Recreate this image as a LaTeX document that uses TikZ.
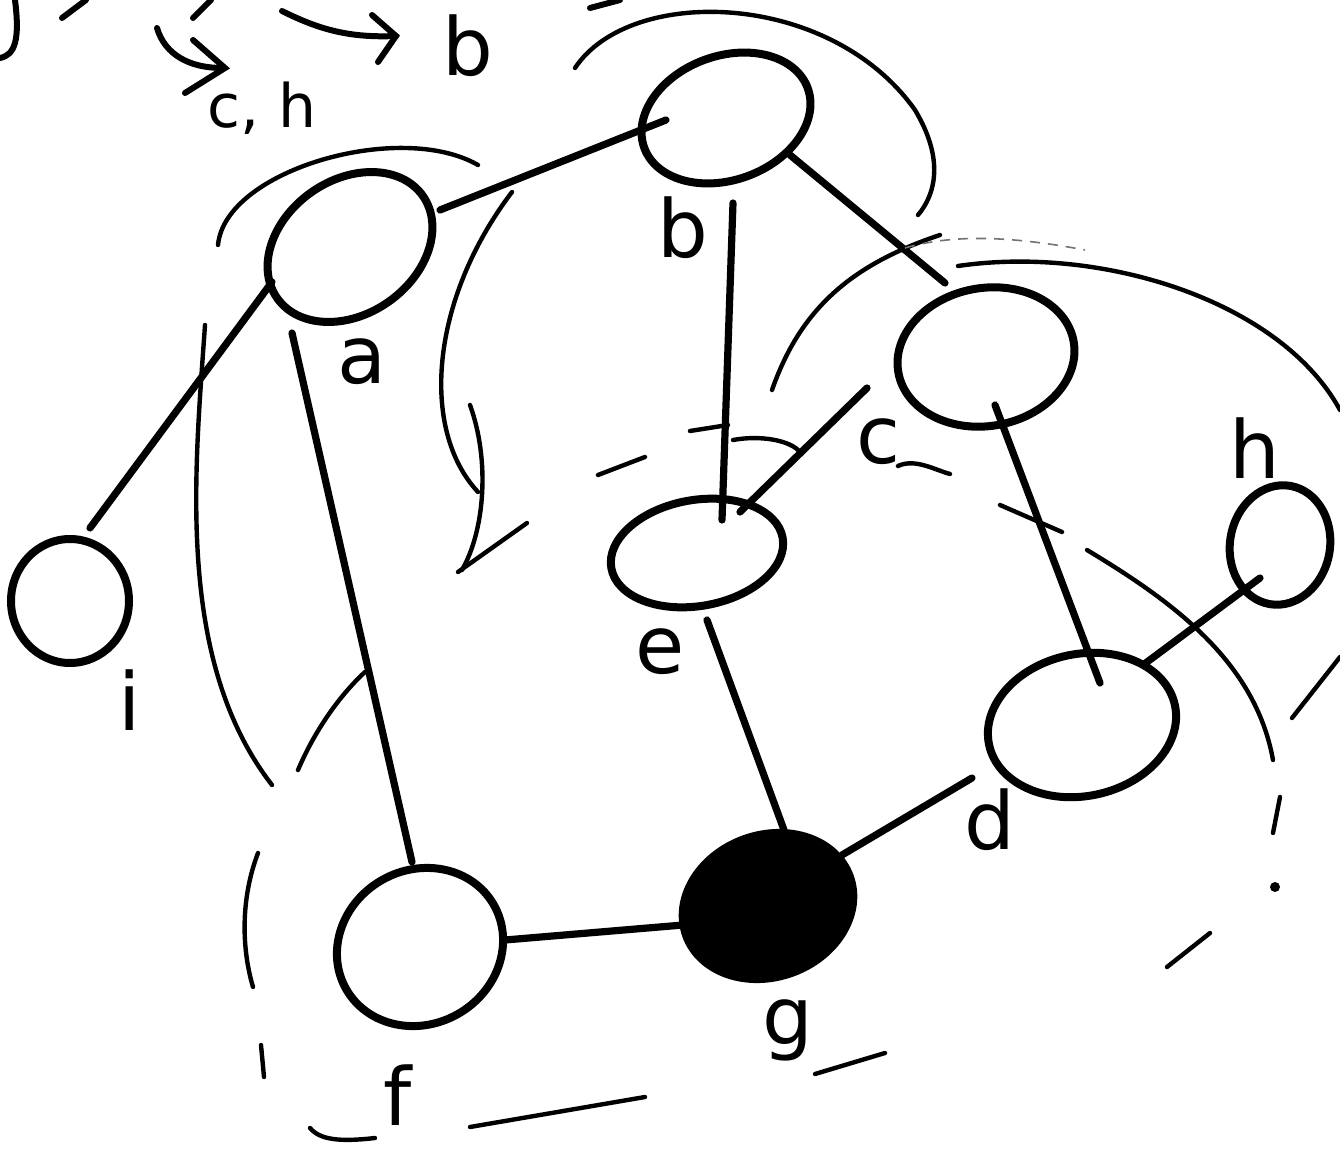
\documentclass[tikz,border=0pt]{standalone}
\usepackage{fontspec}
\setmainfont{DejaVu Sans}
\usetikzlibrary{shapes.geometric,calc}
\begin{document}
\begin{tikzpicture}[x=0.5pt,y=-0.5pt,
  vtx/.style={ellipse,draw,line width=4pt,inner sep=0pt},
  edg/.style={line width=3.6pt,line cap=round},
  skt/.style={line width=2.2pt,line cap=round},
  faint/.style={line width=0.8pt,dash pattern=on 5pt off 4pt,black!55},
  lbl/.style={inner sep=0pt,font=\fontsize{40}{44}\selectfont},
  small/.style={inner sep=0pt,font=\fontsize{30}{34}\selectfont}]
\useasboundingbox[fill=white] (0,0) rectangle (1340,1156);

% vertices
\node[vtx,minimum width=89pt,minimum height=67pt,rotate=35] (a) at (350,247) {};
\node[vtx,minimum width=87pt,minimum height=62pt,rotate=20] (b) at (726,118) {};
\node[vtx,minimum width=89pt,minimum height=69pt,rotate=10] (c) at (986,357) {};
\node[vtx,minimum width=87pt,minimum height=53pt,rotate=10] (e) at (697,553) {};
\node[vtx,minimum width=50pt,minimum height=60pt,rotate=-10] (h) at (1280,545) {};
\node[vtx,minimum width=95pt,minimum height=71pt,rotate=12] (d) at (1082,725) {};
\node[vtx,fill=black,minimum width=87pt,minimum height=71pt,rotate=20] (g) at (768,906) {};
\node[vtx,minimum width=85pt,minimum height=77pt,rotate=30] (f) at (420,947) {};
\node[vtx,minimum width=59pt,minimum height=62pt] (i) at (70,601) {};

% edges
\draw[edg] ($(a)+(90,-37)$) -- ($(b)+(-60,2)$);
\draw[edg] ($(a)+(-78,35)$) -- ($(i)+(20,-73)$);
\draw[edg] ($(a)+(-58,86)$) -- ($(f)+(-8,-85)$);
\draw[edg] ($(b)+(7,85)$) -- ($(e)+(25,-33)$);
\draw[edg] ($(b)+(64,37)$) -- ($(c)+(-41,-74)$);
\draw[edg] ($(c)+(-119,31)$) -- ($(e)+(43,-41)$);
\draw[edg] ($(c)+(9,48)$) -- ($(d)+(18,-42)$);
\draw[edg] ($(e)+(10,67)$) -- ($(g)+(16,-76)$);
\draw[edg] ($(d)+(61,-60)$) -- ($(h)+(-20,33)$);
\draw[edg] ($(g)+(74,-51)$) -- ($(d)+(-110,53)$);
\draw[edg] ($(f)+(85,-7)$) -- ($(g)+(-85,19)$);

% labels
\node[lbl] (la) at (362,362) {a};
\node[lbl] (lb) at (683,228) {b};
\node[lbl] (lc) at (878,442) {c};
\node[lbl] (le) at (660,652) {e};
\node[lbl] (lh) at (1255,448) {h};
\node[lbl] (ld) at (990,820) {d};
\node[lbl] (lg) at (788,1030) {g};
\node[lbl] (lf) at (398,1095) {f};
\node[lbl] (li) at (130,700) {i};
\node[lbl] (tb) at (468,46) {b};
\node[small] (tch) at (262,108) {c, h};

% freehand strokes
\draw[skt] (575,68) .. controls (630,-15) and (830,-10) .. (915,110) .. controls (945,160) and (935,195) .. (918,215);
\draw[skt] (218,245) .. controls (225,170) and (400,120) .. (478,165);
\draw[skt] (205,325) .. controls (195,470) and (175,660) .. (272,785);
\draw[skt] (512,192) .. controls (430,300) and (420,430) .. (478,492);
\draw[skt] (470,405) .. controls (490,460) and (485,530) .. (462,570);
\draw[skt] (527,523) -- (458,572);
\draw[skt] (598,475) -- (645,457);
\draw[skt] (690,431) -- (728,425);
\draw[skt] (733,440) .. controls (760,435) and (790,440) .. (800,452);
\draw[skt] (772,390) .. controls (800,310) and (850,265) .. (940,235);
\draw[faint] (905,248) .. controls (940,238) and (990,232) .. (1085,250);
\draw[skt] (958,266) .. controls (1100,245) and (1280,300) .. (1340,410);
\draw[skt] (1087,550) .. controls (1170,600) and (1255,660) .. (1273,760);
\draw[skt] (1000,505) -- (1062,532);
\draw[skt] (1280,797) -- (1273,833);
\fill (1275,887) circle (5);
\draw[skt] (1167,967) -- (1210,933);
\draw[skt] (1292,718) -- (1340,657);
\draw[skt] (298,770) .. controls (315,730) and (340,695) .. (365,672);
\draw[skt] (258,853) .. controls (240,900) and (242,950) .. (253,987);
\draw[skt] (261,1045) -- (264,1077);
\draw[skt] (470,1127) -- (645,1097);
\draw[skt] (815,1074) -- (885,1053);
\draw[skt] (310,1128) .. controls (320,1140) and (340,1142) .. (375,1138);
\draw[skt] (898,466) .. controls (915,458) and (935,470) .. (950,474);
% top-left partial writing
\draw[skt,line width=3pt] (0,58) .. controls (15,55) and (20,40) .. (15,0);
\draw[skt,line width=3pt] (62,18) -- (86,0);
\draw[skt,line width=3pt] (193,18) -- (211,0);
\draw[skt,line width=3pt] (590,8) -- (620,0);
\draw[skt,line width=3pt] (282,11) .. controls (320,30) and (350,38) .. (396,36);
\draw[skt,line width=3pt] (372,15) -- (396,36) -- (378,62);
\draw[skt,line width=3pt] (157,28) .. controls (165,55) and (190,68) .. (222,68);
\draw[skt,line width=3pt] (193,40) -- (225,68) -- (185,93);
\end{tikzpicture}
\end{document}
